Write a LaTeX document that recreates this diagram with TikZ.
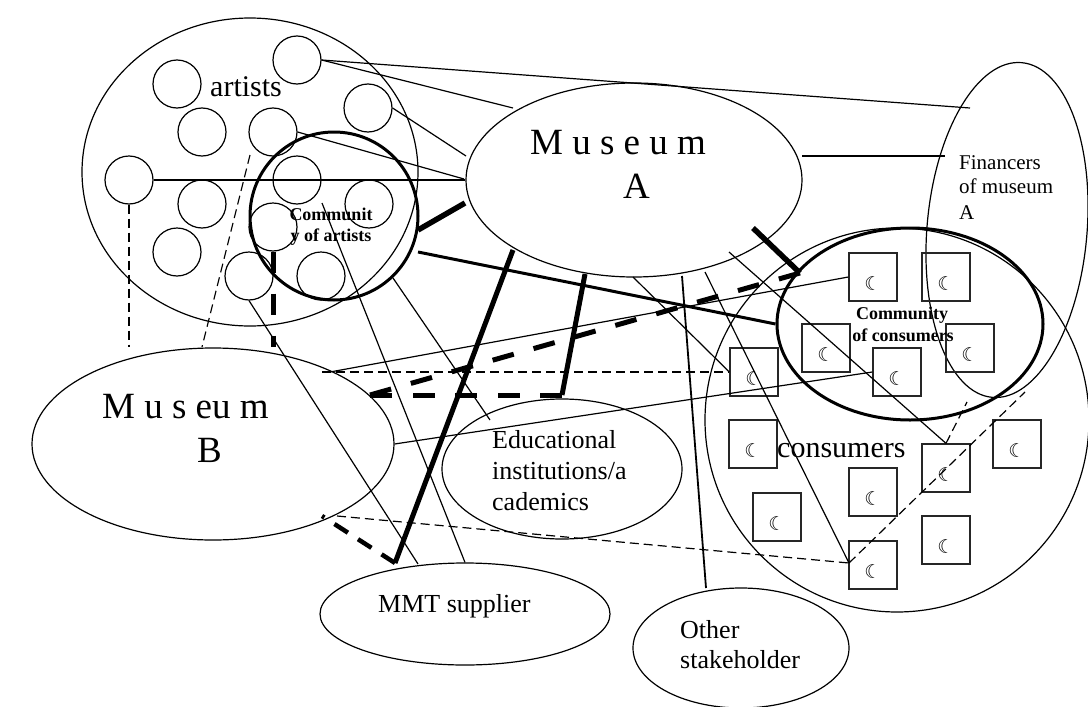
\documentclass[tikz,border=0pt]{standalone}
\usepackage{fontspec}
\setmainfont{Liberation Serif}
\newfontfamily\symfont{DejaVu Sans}
\usetikzlibrary{shapes.geometric}
\begin{document}
\begin{tikzpicture}[x=1pt,y=-1pt,
  ln/.style={line width=1.2pt},
  hv/.style={line width=5pt},
  hvd/.style={line width=5pt,dash pattern=on 22pt off 20.5pt},
  dl/.style={line width=1.2pt,dash pattern=on 9pt off 5pt},
  ell/.style={draw,ellipse,inner sep=0pt,line width=1.2pt},
  art/.style={draw,circle,minimum size=48pt,inner sep=0pt,line width=1.2pt},
  sq/.style={draw=black!85,rectangle,minimum size=48pt,inner sep=0pt,line width=1.3pt},
  moon/.style={font=\symfont\fontsize{19}{19}\selectfont,inner sep=0pt},
  lbl/.style={anchor=base west,inner sep=0pt},
  cbl/.style={anchor=base,inner sep=0pt,font=\bfseries\fontsize{18}{18}\selectfont}
]
\useasboundingbox (0,0) rectangle (1088,707);

% ---- big shapes
\node[ell,minimum width=336pt,minimum height=308pt] (artE) at (250,172) {};
\node[draw,circle,minimum size=168pt,inner sep=0pt,line width=3pt] (comA) at (334,216) {};
\node[ell,minimum width=336pt,minimum height=194pt] (mA) at (634,180) {};
\node[ell,minimum width=336pt,minimum height=160pt,rotate=-95] (fin) at (1007,230) {};
\node[ell,minimum width=384pt,minimum height=384pt] (cons) at (897,420) {};
\node[ell,minimum width=266pt,minimum height=192pt,line width=3pt] (comC) at (910,324) {};
\node[ell,minimum width=362pt,minimum height=192pt] (mB) at (213,444) {};
\node[ell,minimum width=240pt,minimum height=140pt] (edu) at (562,469) {};
\node[ell,minimum width=290pt,minimum height=102pt] (mmt) at (465,614) {};
\node[ell,minimum width=216pt,minimum height=120pt] (oth) at (741,648) {};

% ---- artist circles
\foreach \x/\y [count=\i] in {297/60,177/84,368/108,202/132,273/132,129/180,297/180,202/204,369/204,273/227,177/252,249/276,321/276}
  \node[art] (a\i) at (\x,\y) {};

% ---- consumer squares
\foreach \x/\y [count=\i] in {873/277,946/277,826/348,970/348,897/372,754/372,753/444,946/468,1017/444,873/492,777/517,946/540,873/565}
  {\node[sq] (s\i) at (\x,\y) {};
   \node[moon] (m\i) at (\x,\y+7) {☾};}

% ---- labels
\node[lbl,font=\fontsize{30}{30}\selectfont] (tArt) at (210,96) {artists};
\node[lbl,font=\fontsize{30}{30}\selectfont] (tCons) at (777,457) {consumers};
\node[lbl,font=\fontsize{37}{37}\selectfont] (tMA1) at (530,154) {M u s e u m};
\node[lbl,font=\fontsize{37}{37}\selectfont] (tMA2) at (623,198) {A};
\node[lbl,font=\fontsize{37}{37}\selectfont] (tMB1) at (102,418) {M u s eu m};
\node[lbl,font=\fontsize{37}{37}\selectfont] (tMB2) at (197,462) {B};
\node[lbl,font=\fontsize{26}{26}\selectfont] (tE1) at (492,448) {Educational};
\node[lbl,font=\fontsize{26}{26}\selectfont] (tE2) at (492,479) {institutions/a};
\node[lbl,font=\fontsize{26}{26}\selectfont] (tE3) at (492,510) {cademics};
\node[lbl,font=\fontsize{26}{26}\selectfont] (tM) at (378,612) {MMT supplier};
\node[lbl,font=\fontsize{26}{26}\selectfont] (tO1) at (680,638) {Other};
\node[lbl,font=\fontsize{26}{26}\selectfont] (tO2) at (680,668) {stakeholder};
\node[lbl,font=\fontsize{21}{21}\selectfont] (tF1) at (959,169) {Financers};
\node[lbl,font=\fontsize{21}{21}\selectfont] (tF2) at (959,193) {of museum};
\node[lbl,font=\fontsize{21}{21}\selectfont] (tF3) at (959,219) {A};
\node[cbl] (tCA1) at (331,220) {Communit};
\node[cbl] (tCA2) at (331,241) {y of artists};
\node[cbl] (tCC1) at (902,319) {Community};
\node[cbl] (tCC2) at (903,341) {of consumers};

% ---- connector end points
\coordinate (f1) at (970,108);
\coordinate (ma1) at (513,108);
\coordinate (ma2) at (466,156);
\coordinate (ma3) at (464,179);
\coordinate (ca1) at (418,230);
\coordinate (ma4) at (465,203);
\coordinate (ca2) at (418,252);
\coordinate (ca3) at (393,278);
\coordinate (ed1) at (490,420);
\coordinate (ca4) at (322,203);
\coordinate (a5s) at (250,155);
\coordinate (mb1) at (202,347);
\coordinate (mb0) at (129,347);
\coordinate (mb2) at (273,347);
\coordinate (mb3) at (322,372);
\coordinate (mb4) at (330,372);
\coordinate (mb5) at (337,516);
\coordinate (mb6) at (322,516);
\coordinate (mb7) at (370,395);
\coordinate (p13) at (849,563);
\coordinate (ma5) at (513,250);
\coordinate (k1) at (395,563);
\coordinate (ma6) at (585,274);
\coordinate (k2) at (562,395);
\coordinate (ma7) at (753,228);
\coordinate (k3) at (800,273);
\coordinate (ma8) at (633,277);
\coordinate (ma9) at (682,276);
\coordinate (ot1) at (706,588);
\coordinate (ma10) at (705,272);
\coordinate (ma11) at (729,252);
\coordinate (cc1) at (967,402);
\coordinate (fi2) at (1025,392);
\coordinate (ma12) at (802,156);
\coordinate (fi3) at (945,156);
\coordinate (mm1) at (418,564);

% ---- thin connectors
\draw[ln] (a1.east) -- (f1);
\draw[ln] (a1.east) -- (ma1);
\draw[ln] (a3.east) -- (ma2);
\draw[ln] (a5.east) -- (ma3);
\draw[ln] (a6.east) -- (mA.west);
\draw[ln] (ca3) -- (ed1);
\draw[ln] (ca4) -- (mmt.north);
\draw[ln] (a12.south) -- (mm1);
\draw[ln] (mb4) -- (s1.west);
\draw[ln] (mB.east) -- (s5.west);
\draw[ln] (ma8) -- (s6.west);
\draw[line width=1.8pt] (ma9) -- (ot1);
\draw[ln] (ma10) -- (p13);
\draw[ln] (ma11) -- (s8.north);
\draw[ln] (ma12) -- (fi3);

% ---- thin dashed
\draw[dl] (a6.south) -- (mb0);
\draw[dl] (a5s) -- (mb1);
\draw[dl] (mb3) -- (s6.west);
\draw[dl] (mb5) -- (p13);
\draw[dl] (s8.north) -- (cc1);
\draw[dl] (p13) -- (fi2);

% ---- heavy connectors
\draw[line width=5.5pt] (ca1) -- (ma4);
\draw[line width=3pt] (ca2) -- (comC.west);
\draw[line width=5pt,dash pattern=on 21pt off 21pt] (a10.south) -- (mb2);
\draw[hv] (ma5) -- (k1);
\draw[line width=4.5pt,dash pattern=on 16pt off 12pt] (k1) -- (mb6);
\draw[hv] (ma6) -- (k2);
\draw[hvd] (k2) -- (mb7);
\draw[line width=5.5pt] (ma7) -- (k3);
\draw[hvd] (k3) -- (mb7);
\end{tikzpicture}
\end{document}
